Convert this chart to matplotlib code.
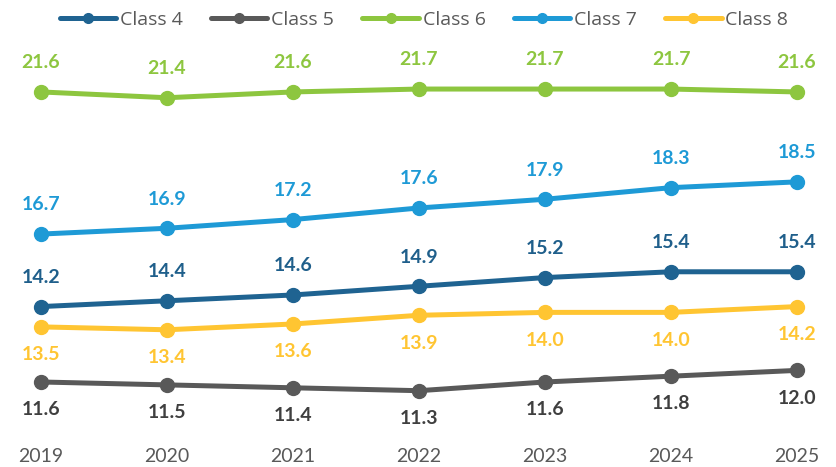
import matplotlib.pyplot as plt

years = [2019, 2020, 2021, 2022, 2023, 2024, 2025]
class_4 = [14.2, 14.4, 14.6, 14.9, 15.2, 15.4, 15.4]
class_5 = [11.6, 11.5, 11.4, 11.3, 11.6, 11.8, 12.0]
class_6 = [21.6, 21.4, 21.6, 21.7, 21.7, 21.7, 21.6]
class_7 = [16.7, 16.9, 17.2, 17.6, 17.9, 18.3, 18.5]
class_8 = [13.5, 13.4, 13.6, 13.9, 14.0, 14.0, 14.2]

# name, values, line colour, label colour, label above?
series = [
    ("Class 4", class_4, "#1F6391", "#1F5F8B", True),
    ("Class 5", class_5, "#595959", "#3F3F3F", False),
    ("Class 6", class_6, "#8DC63F", "#8DC63F", True),
    ("Class 7", class_7, "#1E9AD6", "#1E9AD6", True),
    ("Class 8", class_8, "#FFC532", "#FFC532", False),
]

plt.rcParams["font.family"] = ["Lato", "DejaVu Sans"]

fig = plt.figure(figsize=(8.37, 4.67), dpi=100)
ax = fig.add_axes([0, 1 - 440 / 467, 1, 440 / 467])

for name, values, color, label_color, above in series:
    ax.plot(years, values, color=color, lw=3.6, marker="o", ms=10, label=name,
            solid_capstyle="round")
    for x, v in zip(years, values):
        dy = 21 if above else -20
        ax.annotate(f"{v:.1f}", (x, v), xytext=(0, dy), textcoords="offset points",
                    ha="center", va="center", fontsize=14, fontweight="bold",
                    color=label_color)

ax.set_xlim(2019 - 41 / 126, 2025 + 40 / 126)
ax.set_ylim(9.6, 24.77)
ax.set_xticks(years)
ax.set_xticklabels([str(y) for y in years], fontsize=14, color="#595959")
ax.tick_params(axis="x", length=0, pad=6)
ax.set_yticks([])
for spine in ax.spines.values():
    spine.set_visible(False)

fig.legend(loc="center", bbox_to_anchor=(424 / 837, 1 - 20 / 467), ncol=5, frameon=False,
           prop={"family": "Open Sans", "size": 14}, handlelength=2.9, columnspacing=1.45,
           handletextpad=0.2, labelcolor="#595959", borderpad=0, markerscale=0.7)

fig.savefig("out.png", dpi=100)
